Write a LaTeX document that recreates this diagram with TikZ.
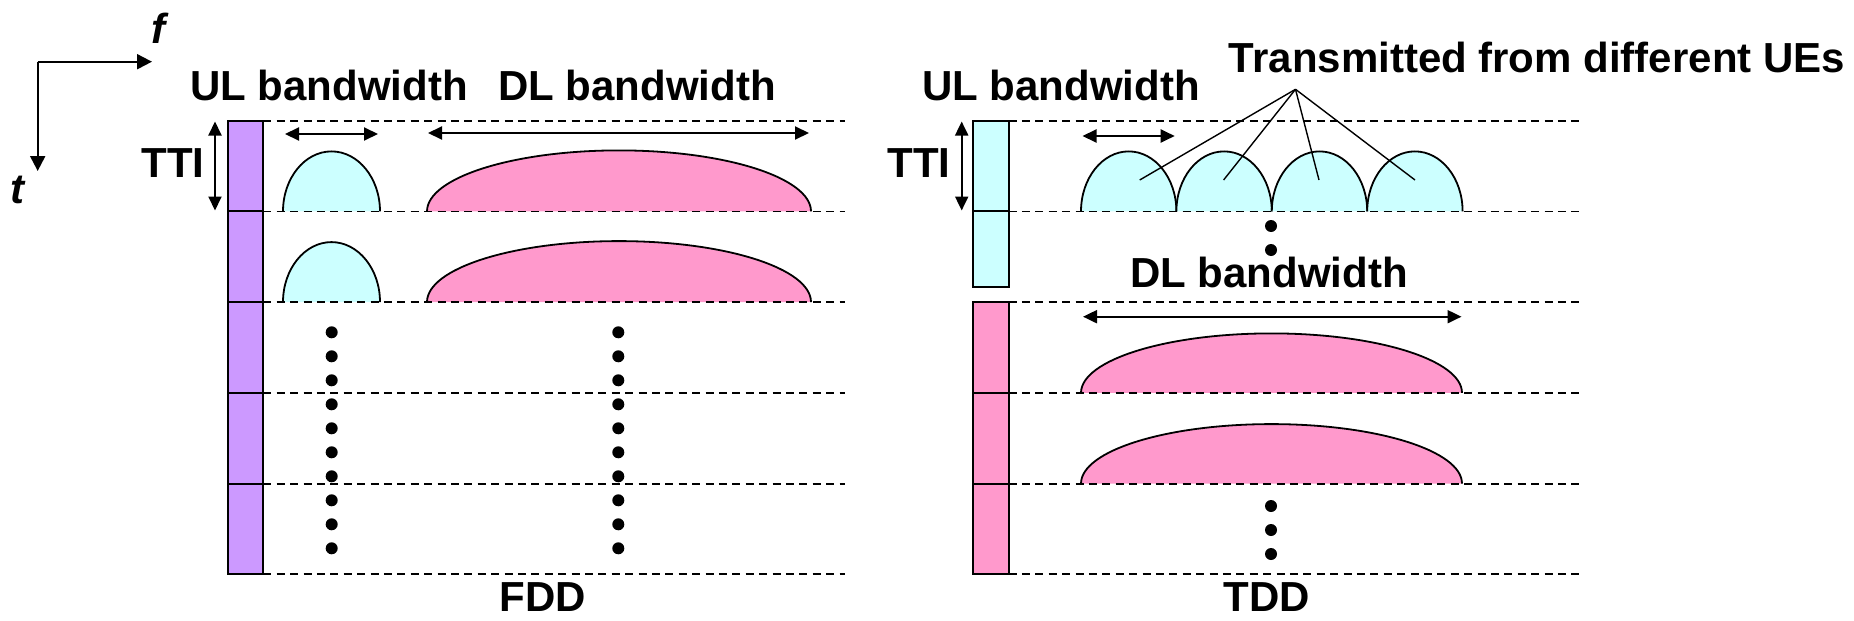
\documentclass[tikz,border=0pt]{standalone}
\usepackage{fontspec}
\setmainfont{Liberation Sans}
\usetikzlibrary{arrows.meta}
\definecolor{ulcyan}{HTML}{CCFFFF}
\definecolor{dlpink}{HTML}{FF99CC}
\definecolor{barpurple}{HTML}{CC99FF}
\tikzset{
  gridline/.style={line width=0.9pt, dash pattern=on 4pt off 2.7pt},
  dbl/.style={line width=1pt, {Triangle[length=7pt,width=6.5pt]}-{Triangle[length=7pt,width=6.5pt]}},
  axisarrow/.style={line width=1pt, -{Triangle[length=7.5pt,width=7.5pt]}},
  lbl/.style={font=\fontsize{21}{25}\selectfont\bfseries, inner sep=0pt, anchor=base},
  ilbl/.style={lbl, font=\fontsize{21}{25}\selectfont\bfseries\itshape},
  humpline/.style={line width=0.9pt, draw=black},
  dotnode/.style={circle, fill=black, inner sep=0pt, minimum size=6pt},
  fanline/.style={line width=0.7pt},
  cell/.style={draw=black, line width=1pt},
}
\begin{document}
\begin{tikzpicture}[x=0.5pt,y=0.5pt]
\useasboundingbox (0,0) rectangle (1854,-621);

% ---------- axes ----------
\coordinate (origin) at (37.7,-61.7);
\coordinate (fend) at (152,-61.7);
\coordinate (tend) at (37.7,-171);
\draw[axisarrow] (origin) -- (fend);
\draw[axisarrow] (origin) -- (tend);
\node[ilbl] (flbl) at (158,-43) {f};
\node[ilbl] (tlbl) at (17,-203) {t};

% ---------- FDD humps ----------
\filldraw[fill=ulcyan, humpline] (283,-211.4) arc[start angle=180,end angle=0,x radius=24.25pt,y radius=30pt];
\filldraw[fill=ulcyan, humpline] (283,-302.1) arc[start angle=180,end angle=0,x radius=24.25pt,y radius=30pt];
\filldraw[fill=dlpink, humpline] (427,-211.4) arc[start angle=180,end angle=0,x radius=96pt,y radius=30.5pt];
\filldraw[fill=dlpink, humpline] (427,-302.1) arc[start angle=180,end angle=0,x radius=96pt,y radius=30.5pt];

% ---------- TDD humps ----------
\foreach \xs in {1081,1176.4,1271.8,1367.2}{
  \filldraw[fill=ulcyan, humpline] (\xs,-211.4) arc[start angle=180,end angle=0,x radius=23.85pt,y radius=30pt];
}
\filldraw[fill=dlpink, humpline] (1081,-392.9) arc[start angle=180,end angle=0,x radius=95.25pt,y radius=29.75pt];
\filldraw[fill=dlpink, humpline] (1081,-483.6) arc[start angle=180,end angle=0,x radius=95.25pt,y radius=29.75pt];

% ---------- dashed grid ----------
\foreach \yy in {120.7,211.4,302.1,392.9,483.6,574.3}{
  \draw[gridline] (263.3,-\yy) -- (845,-\yy);
  \draw[gridline] (1008.5,-\yy) -- (1583,-\yy);
}

% ---------- FDD bar ----------
\fill[barpurple] (228,-120.7) rectangle (263.3,-574.3);
\foreach \ya/\yb in {120.7/211.4,211.4/302.1,302.1/392.9,392.9/483.6,483.6/574.3}{
  \draw[cell] (228,-\ya) rectangle (263.3,-\yb);
}

% ---------- TDD bar ----------
\foreach \ya/\yb in {120.7/211.4,211.4/286.7}{
  \draw[cell, fill=ulcyan] (973,-\ya) rectangle (1008.5,-\yb);
}
\foreach \ya/\yb in {302.1/392.9,392.9/483.6,483.6/574.3}{
  \draw[cell, fill=dlpink] (973,-\ya) rectangle (1008.5,-\yb);
}

% ---------- double arrows ----------
\coordinate (ttiAt) at (215,-121.5);
\coordinate (ttiAb) at (215,-210.5);
\draw[dbl] (ttiAt) -- (ttiAb);
\coordinate (ttiBt) at (961.7,-121.5);
\coordinate (ttiBb) at (961.7,-210.5);
\draw[dbl] (ttiBt) -- (ttiBb);
\coordinate (ulAl) at (285,-134);
\coordinate (ulAr) at (378,-134);
\draw[dbl] (ulAl) -- (ulAr);
\coordinate (dlAl) at (428,-133);
\coordinate (dlAr) at (809,-133);
\draw[dbl] (dlAl) -- (dlAr);
\coordinate (ulBl) at (1082.5,-136);
\coordinate (ulBr) at (1174.7,-136);
\draw[dbl] (ulBl) -- (ulBr);
\coordinate (dlBl) at (1083,-316.7);
\coordinate (dlBr) at (1461.5,-316.7);
\draw[dbl] (dlBl) -- (dlBr);

% ---------- fan lines ----------
\coordinate (fan) at (1295.5,-89.3);
\coordinate (ue1) at (1139.7,-180);
\coordinate (ue2) at (1223.6,-180);
\coordinate (ue3) at (1319,-180);
\coordinate (ue4) at (1415,-180);
\foreach \u in {ue1,ue2,ue3,ue4}{ \draw[fanline] (fan) -- (\u); }

% ---------- dots ----------
\foreach \k in {0,...,9}{
  \node[dotnode] (dA\k) at (331.7,{-332.3-24*\k}) {};
  \node[dotnode] (dB\k) at (618.3,{-332.3-24*\k}) {};
}
\node[dotnode] (dC0) at (1271,-226) {};
\node[dotnode] (dC1) at (1271,-250) {};
\node[dotnode] (dD0) at (1271,-506) {};
\node[dotnode] (dD1) at (1271,-530) {};
\node[dotnode] (dD2) at (1271,-554) {};

% ---------- labels ----------
\node[lbl] (ttiA) at (173,-177) {TTI};
\node[lbl] (ttiB) at (919,-177) {TTI};
\node[lbl] (ulA) at (329,-100) {UL bandwidth};
\node[lbl] (dlA) at (637,-100) {DL bandwidth};
\node[lbl] (ulB) at (1061,-100) {UL bandwidth};
\node[lbl] (tx) at (1537,-72) {Transmitted from different UEs};
\node[lbl] (dlB) at (1269,-287) {DL bandwidth};
\node[lbl] (fdd) at (543,-611) {FDD};
\node[lbl] (tdd) at (1267,-611) {TDD};
\end{tikzpicture}
\end{document}
